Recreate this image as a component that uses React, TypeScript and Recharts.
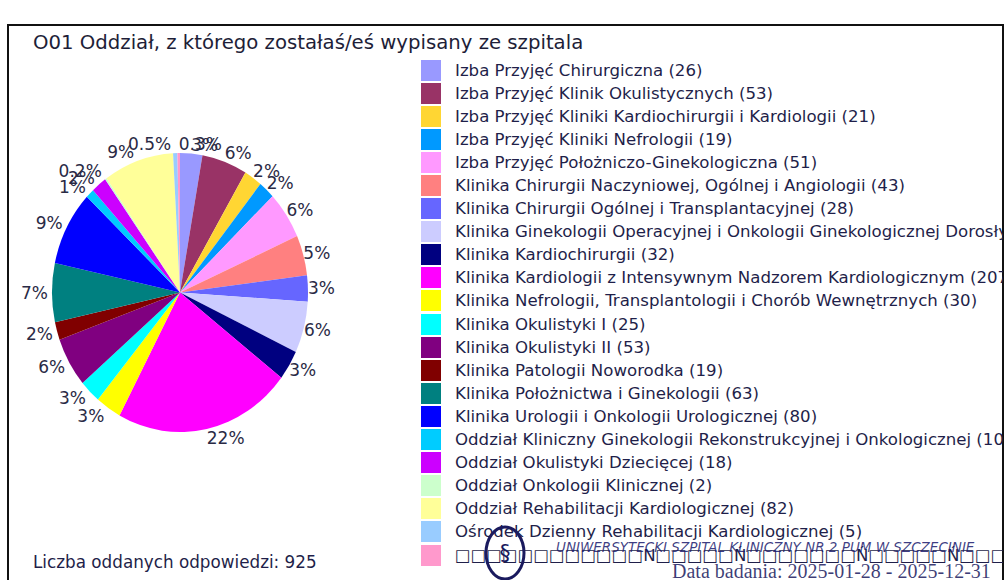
import React from "react";
import { PieChart, Pie, Cell, Legend } from "recharts";

const TOFU = "□□□□□□□□□□□□N□□□□□Ń□□□□□□□Ń□□□□□Ń□□□□□□□□□Ń□□□";

const categories = [
  "Izba Przyjęć Chirurgiczna",
  "Izba Przyjęć Klinik Okulistycznych",
  "Izba Przyjęć Kliniki Kardiochirurgii i Kardiologii",
  "Izba Przyjęć Kliniki Nefrologii",
  "Izba Przyjęć Położniczo-Ginekologiczna",
  "Klinika Chirurgii Naczyniowej, Ogólnej i Angiologii",
  "Klinika Chirurgii Ogólnej i Transplantacyjnej",
  "Klinika Ginekologii Operacyjnej i Onkologii Ginekologicznej Dorosłych i Dziewcząt",
  "Klinika Kardiochirurgii",
  "Klinika Kardiologii z Intensywnym Nadzorem Kardiologicznym",
  "Klinika Nefrologii, Transplantologii i Chorób Wewnętrznych",
  "Klinika Okulistyki I",
  "Klinika Okulistyki II",
  "Klinika Patologii Noworodka",
  "Klinika Położnictwa i Ginekologii",
  "Klinika Urologii i Onkologii Urologicznej",
  "Oddział Kliniczny Ginekologii Rekonstrukcyjnej i Onkologicznej",
  "Oddział Okulistyki Dziecięcej",
  "Oddział Onkologii Klinicznej",
  "Oddział Rehabilitacji Kardiologicznej",
  "Ośrodek Dzienny Rehabilitacji Kardiologicznej",
  TOFU,
];

const counts = [26, 53, 21, 19, 51, 43, 28, 55, 32, 207, 30, 25, 53, 19, 63, 80, 10, 18, 2, 82, 5, 3];

const colors = [
  "#9999FF", "#993366", "#FFD633", "#0099FF", "#FF99FF", "#FF8080",
  "#6666FF", "#CCCCFF", "#000080", "#FF00FF", "#FFFF00", "#00FFFF",
  "#800080", "#800000", "#008080", "#0000FF", "#00CCFF", "#CC00FF",
  "#CCFFCC", "#FFFF99", "#99CCFF", "#FF99CC",
];

const answers = 925;

const data = categories.map((name, i) => ({ name, value: counts[i] }));
const total = counts.reduce((a, b) => a + b, 0);

const RATIO = 1.09; // pie is drawn as an ellipse, a bit taller than wide
const RAD = Math.PI / 180;
const FONT = "'DejaVu Sans', Tahoma, sans-serif";
const NAVY = "#1f1f4a";

function EllipseSector(props: any) {
  const { cx, cy, startAngle, endAngle, outerRadius, fill } = props;
  const rx = outerRadius;
  const ry = outerRadius * RATIO;
  const pt = (a: number) => [cx + rx * Math.cos(-a * RAD), cy + ry * Math.sin(-a * RAD)];
  const [x1, y1] = pt(startAngle);
  const [x2, y2] = pt(endAngle);
  const large = Math.abs(endAngle - startAngle) > 180 ? 1 : 0;
  const sweep = startAngle > endAngle ? 1 : 0;
  return (
    <path
      d={`M${cx},${cy}L${x1},${y1}A${rx},${ry} 0 ${large} ${sweep} ${x2},${y2}Z`}
      fill={fill}
      stroke="none"
    />
  );
}

function pctText(v: number) {
  const p = (v / total) * 100;
  return p < 1 ? `${p.toFixed(1)}%` : `${Math.round(p)}%`;
}

function renderLabel(props: any) {
  const { cx, cy, midAngle, outerRadius, value } = props;
  const c = Math.cos(-midAngle * RAD);
  const s = Math.sin(-midAngle * RAD);
  const px = cx + outerRadius * c;
  const py = cy + outerRadius * RATIO * s;
  const anchor = c >= -0.02 ? "start" : "end";
  return (
    <text
      x={anchor === "start" ? px : px - 4}
      y={py + 9 * s}
      textAnchor={anchor}
      dominantBaseline="central"
      fill="#2a2a45"
      fontSize={17}
      fontFamily={FONT}
    >
      {pctText(value)}
    </text>
  );
}

function LegendList() {
  return (
    <div>
      {data.map((d, i) => (
        <div
          key={d.name}
          style={{ display: "flex", alignItems: "center", height: 23.1, whiteSpace: "nowrap" }}
        >
          <span style={{ width: 20, height: 21, background: colors[i], flex: "0 0 auto" }} />
          <span style={{ marginLeft: 14, fontSize: 16.6, color: NAVY, fontFamily: FONT }}>
            {d.name === TOFU ? d.name : `${d.name} (${d.value})`}
          </span>
        </div>
      ))}
    </div>
  );
}

export default function App() {
  return (
    <div
      style={{
        position: "absolute",
        left: 0,
        top: 0,
        width: 1006,
        height: 580,
        overflow: "hidden",
        background: "#fff",
        fontFamily: FONT,
      }}
    >
      <div
        style={{
          position: "absolute",
          left: 7,
          top: 24,
          width: 997,
          height: 620,
          border: "2px solid #111",
          boxSizing: "border-box",
        }}
      />
      <div
        style={{
          position: "absolute",
          left: 33,
          top: 30,
          fontSize: 19.7,
          lineHeight: "26px",
          color: "#1e1e38",
          whiteSpace: "nowrap",
        }}
      >
        O01 Oddział, z którego zostałaś/eś wypisany ze szpitala
      </div>
      <div style={{ position: "absolute", left: 0, top: 0 }}>
        <PieChart width={1006} height={580} margin={{ top: 0, right: 0, bottom: 0, left: 0 }}>
          <Pie
            data={data}
            dataKey="value"
            nameKey="name"
            cx={180}
            cy={292.5}
            outerRadius={128}
            startAngle={90}
            endAngle={-270}
            stroke="none"
            label={renderLabel}
            labelLine={false}
            shape={EllipseSector}
            inactiveShape={EllipseSector}
            activeShape={EllipseSector}
            isAnimationActive={false}
          >
            {data.map((d, i) => (
              <Cell key={d.name} fill={colors[i]} />
            ))}
          </Pie>
          <Legend
            content={() => <LegendList />}
            wrapperStyle={{
              position: "absolute",
              left: 421,
              top: 58.5,
              width: 582,
              height: 520,
              overflow: "hidden",
            }}
          />
        </PieChart>
      </div>
      <div
        style={{
          position: "absolute",
          left: 33,
          top: 551,
          fontSize: 16.8,
          lineHeight: "22px",
          color: NAVY,
          whiteSpace: "nowrap",
        }}
      >
        Liczba oddanych odpowiedzi: {answers}
      </div>
      <svg
        width={1006}
        height={580}
        style={{ position: "absolute", left: 0, top: 0, pointerEvents: "none" }}
      >
        <ellipse cx={505} cy={553} rx={19} ry={26} fill="none" stroke="#1a1a5e" strokeWidth={3} />
        <text x={505} y={560} textAnchor="middle" fontSize={22} fill="#1a1a5e" fontFamily={FONT}>
          §
        </text>
        <text
          x={556}
          y={552}
          fontSize={13.5}
          fontStyle="italic"
          fill="#1a1a6e"
          fillOpacity={0.85}
          fontFamily={FONT}
        >
          UNIWERSYTECKI SZPITAL KLINICZNY NR 2 PUM W SZCZECINIE
        </text>
        <text
          x={672}
          y={578}
          fontSize={20}
          fill="#1a1a5e"
          fillOpacity={0.85}
          fontFamily="'Liberation Serif', serif"
        >
          Data badania: 2025-01-28 - 2025-12-31
        </text>
      </svg>
    </div>
  );
}
